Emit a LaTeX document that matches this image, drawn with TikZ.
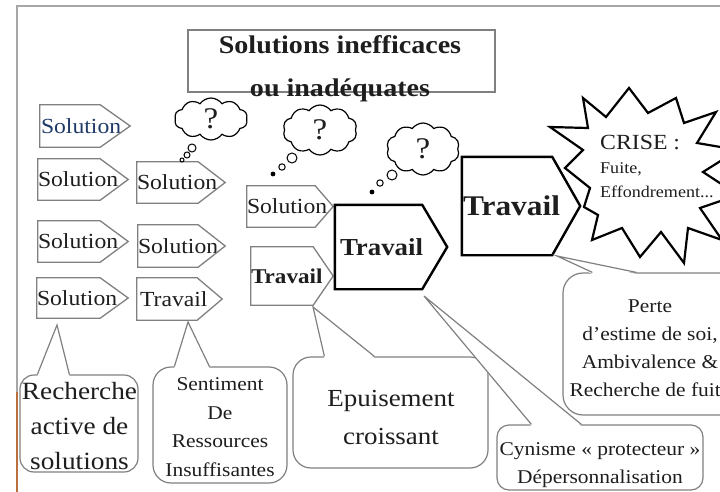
\documentclass[tikz,border=0pt]{standalone}
\usepackage{fontspec}
\setmainfont{Liberation Serif}[FakeStretch=1.1]
\usetikzlibrary{shapes.symbols,calc}
\definecolor{boxgray}{HTML}{808080}
\definecolor{txt}{HTML}{1E1E1E}
\definecolor{navy}{HTML}{1F3A68}
\definecolor{framegray}{HTML}{A6A6A6}
\definecolor{edgebrown}{HTML}{B8703F}
\newcommand\fs[2]{\fontsize{#1}{#2}\selectfont}
\newcommand\pentdraw[3]{\draw[#1] (#2.north west) -- ([xshift=-#3]#2.north east) -- (#2.east) -- ([xshift=-#3]#2.south east) -- (#2.south west) -- cycle;}
\newcommand\calloutdraw[4]{%
  \fill[white] ([xshift=#2,yshift=-1.6pt]#1.north west) -- (#4) -- ([xshift=#3,yshift=-1.6pt]#1.north west) -- cycle;
  \draw[cline] ([xshift=#2]#1.north west) -- (#4) -- ([xshift=#3]#1.north west);}
\begin{document}
\begin{tikzpicture}[x=1pt,y=-1pt,
  abox/.style={inner sep=0pt, align=left, text=txt, font=\fs{21.5}{24}},
  grayline/.style={draw=boxgray, line width=1.3pt},
  blackline/.style={draw=black, line width=2.4pt},
  cbox/.style={draw=boxgray, line width=1.2pt, inner sep=0pt},
  cline/.style={draw=boxgray, line width=1.2pt, line join=miter},
  ctext/.style={inner sep=0pt, align=center, text=txt},
  cloudq/.style={cloud, cloud puffs=10, cloud puff arc=110, draw=black, line width=1.2pt, inner sep=0pt, font=\fs{30}{30}, text=txt, aspect=1.6},
  dotc/.style={draw=black, line width=1pt}]
\useasboundingbox (0,0) rectangle (720,492);
\clip (0,0) rectangle (720,492);
\fill[white] (0,0) rectangle (720,492);
% frame
\draw[draw=framegray, line width=1.5pt] (17,492) -- (17,6) -- (720,6);
\draw[draw=edgebrown, line width=1.5pt] (17,392) -- (17,492);

% title
\node[draw=boxgray, line width=1.2pt, minimum width=307pt, minimum height=62pt, inner sep=0pt] (titlebox) at (341.5,61) {};
\node[font=\bfseries\fs{25.5}{43}, align=center, text=txt, inner sep=0pt] (title) at (340,69) {Solutions inefficaces\\ou inadéquates};

% starburst
\draw[draw=black, line width=2.2pt, fill=white, line join=miter]
 (629,88) -- (648,113) -- (676,98) -- (684,123) -- (716,112) -- (697,143) -- (738,150) -- (703,172) -- (738,195) -- (700,208) -- (722,240) -- (688,228) -- (684,263) -- (661,232) -- (640,257) -- (622,228) -- (592,240) -- (598,215) -- (584,207) -- (590,188) -- (565,168) -- (583,150) -- (550,127) -- (588,128) -- (583,98) -- (606,117) -- cycle;
\node[anchor=north west, inner sep=0pt, align=left, text=txt, font=\fs{16.4}{24}] (crise) at (600,135) {{\fs{21.6}{24}CRISE :}\\Fuite,\\Effondrement...};

% column 1
\node[abox, text width=90pt, minimum height=42pt, text=navy] (s11) at (85,126) {\hspace*{1pt}Solution};
\node[abox, text width=90pt, minimum height=41pt] (s12) at (83,179.5) {Solution};
\node[abox, text width=90pt, minimum height=41pt] (s13) at (83,241.5) {Solution};
\node[abox, text width=91pt, minimum height=40pt] (s14) at (82.5,298) {Solution};
\pentdraw{grayline}{s11}{30pt}
\pentdraw{grayline}{s12}{28pt}
\pentdraw{grayline}{s13}{28pt}
\pentdraw{grayline}{s14}{28pt}
% column 2
\node[abox, text width=88pt, minimum height=41pt] (s22) at (181,182.5) {Solution};
\node[abox, text width=87pt, minimum height=42pt] (s23) at (181.5,246) {Solution};
\node[abox, text width=85pt, minimum height=42pt] (s24) at (179.5,299) {\hspace*{3pt}Travail};
\pentdraw{grayline}{s22}{27pt}
\pentdraw{grayline}{s23}{27pt}
\pentdraw{grayline}{s24}{25pt}
% column 3
\node[abox, text width=86pt, minimum height=41pt] (s31) at (290,206.5) {Solution};
\node[abox, text width=82pt, minimum height=58pt, font=\bfseries\fs{21}{24}] (s32) at (292,276) {Travail};
\pentdraw{grayline}{s31}{18pt}
\pentdraw{grayline}{s32}{20pt}
% big boxes
\node[abox, text width=112pt, minimum height=84pt, font=\bfseries\fs{24.4}{28}] (s4) at (391,247) {\hspace*{5pt}Travail};
\node[abox, text width=118pt, minimum height=98pt, font=\bfseries\fs{28.5}{32}] (s5) at (521,206) {\hspace*{1pt}Travail};
\pentdraw{blackline}{s4}{25pt}
\pentdraw{blackline}{s5}{28pt}

% clouds
\node[cloudq, minimum width=73pt, minimum height=42pt] (cl1) at (211,119) {?};
\node[cloudq, minimum width=74pt, minimum height=50pt] (cl2) at (320,130) {?};
\node[cloudq, minimum width=73pt, minimum height=52pt] (cl3) at (423,149) {?};
\draw[dotc] (192,148) circle[radius=4];
\draw[dotc] (187,155) circle[radius=3];
\draw[dotc] (182,160) circle[radius=2];
\draw[dotc] (292,158) circle[radius=5];
\draw[dotc] (282,167) circle[radius=3.2];
\fill (273,174) circle[radius=2.4];
\draw[dotc] (392,175) circle[radius=5];
\draw[dotc] (380,183) circle[radius=3.2];
\fill (372,192) circle[radius=2.4];

% callouts
\coordinate (recap) at (57,325);
\coordinate (senap) at (188,322);
\coordinate (epuap) at (313,307);
\coordinate (cynap) at (424,296);
\coordinate (perap) at (557,256);
\node[cbox, rounded corners=14pt, minimum width=118pt, minimum height=97pt] (rec) at (79,423.5) {};
\node[cbox, rounded corners=18pt, minimum width=134pt, minimum height=116pt] (sen) at (220,425) {};
\node[cbox, rounded corners=18pt, minimum width=195pt, minimum height=111pt] (epu) at (390.5,412.5) {};
\node[cbox, rounded corners=12pt, minimum width=206pt, minimum height=65pt] (cyn) at (600,457.5) {};
\node[cbox, rounded corners=20pt, minimum width=182pt, minimum height=142pt] (per) at (654,344) {};
\calloutdraw{rec}{18pt}{50pt}{recap}
\calloutdraw{sen}{22pt}{57pt}{senap}
\calloutdraw{epu}{32pt}{82pt}{epuap}
\calloutdraw{cyn}{35pt}{85pt}{cynap}
\calloutdraw{per}{30pt}{74pt}{perap}
\node[ctext, font=\fs{24.8}{35}] (rectxt) at (79.5,426) {Recherche\\active de\\solutions};
\node[ctext, font=\fs{19.5}{28.5}] (sentxt) at (220,427) {Sentiment\\De\\Ressources\\Insuffisantes};
\node[ctext, font=\fs{24.5}{38}] (eputxt) at (391,418) {Epuisement\\croissant};
\node[ctext, font=\fs{19.5}{28}] (cyntxt) at (600,465) {Cynisme « protecteur »\\Dépersonnalisation};
\node[ctext, font=\fs{19.5}{28}] (pertxt) at (650,348) {Perte\\d’estime de soi,\\Ambivalence \&\\Recherche de fuite};
\end{tikzpicture}
\end{document}
